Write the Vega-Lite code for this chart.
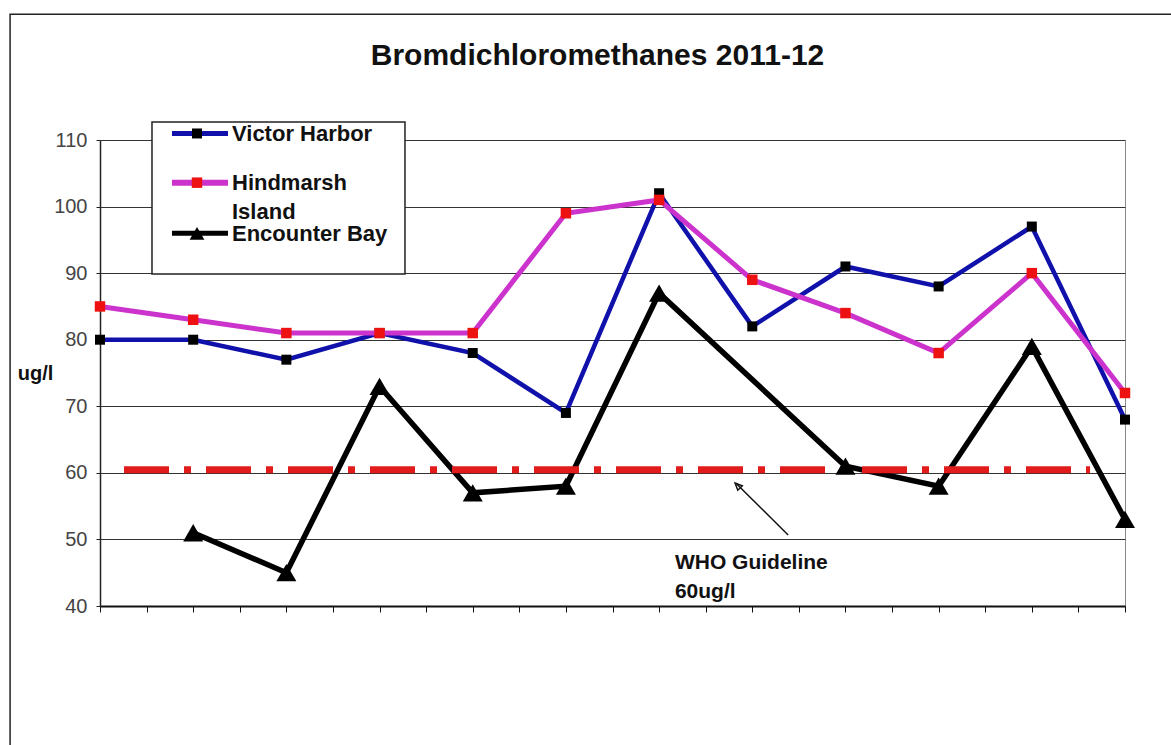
{
  "$schema": "https://vega.github.io/schema/vega-lite/v6.json",
  "width": 1025,
  "height": 466,
  "autosize": {"type": "none"},
  "padding": {"left": 100, "top": 140, "right": 46, "bottom": 139},
  "background": "white",
  "config": {
    "font": "Liberation Sans",
    "view": {"stroke": "#888", "strokeWidth": 1}
  },
  "title": {
    "text": "Bromdichloromethanes 2011-12",
    "fontSize": 30,
    "fontWeight": "bold",
    "color": "#111",
    "anchor": "middle",
    "frame": "group",
    "baseline": "bottom",
    "dx": -15,
    "offset": -88
  },
  "datasets": {
    "readings": [
      {"site": "Victor Harbor", "t": 0, "ugl": 80},
      {"site": "Victor Harbor", "t": 2, "ugl": 80},
      {"site": "Victor Harbor", "t": 4, "ugl": 77},
      {"site": "Victor Harbor", "t": 6, "ugl": 81},
      {"site": "Victor Harbor", "t": 8, "ugl": 78},
      {"site": "Victor Harbor", "t": 10, "ugl": 69},
      {"site": "Victor Harbor", "t": 12, "ugl": 102},
      {"site": "Victor Harbor", "t": 14, "ugl": 82},
      {"site": "Victor Harbor", "t": 16, "ugl": 91},
      {"site": "Victor Harbor", "t": 18, "ugl": 88},
      {"site": "Victor Harbor", "t": 20, "ugl": 97},
      {"site": "Victor Harbor", "t": 22, "ugl": 68},
      {"site": "Hindmarsh Island", "t": 0, "ugl": 85},
      {"site": "Hindmarsh Island", "t": 2, "ugl": 83},
      {"site": "Hindmarsh Island", "t": 4, "ugl": 81},
      {"site": "Hindmarsh Island", "t": 6, "ugl": 81},
      {"site": "Hindmarsh Island", "t": 8, "ugl": 81},
      {"site": "Hindmarsh Island", "t": 10, "ugl": 99},
      {"site": "Hindmarsh Island", "t": 12, "ugl": 101},
      {"site": "Hindmarsh Island", "t": 14, "ugl": 89},
      {"site": "Hindmarsh Island", "t": 16, "ugl": 84},
      {"site": "Hindmarsh Island", "t": 18, "ugl": 78},
      {"site": "Hindmarsh Island", "t": 20, "ugl": 90},
      {"site": "Hindmarsh Island", "t": 22, "ugl": 72},
      {"site": "Encounter Bay", "t": 2, "ugl": 51},
      {"site": "Encounter Bay", "t": 4, "ugl": 45},
      {"site": "Encounter Bay", "t": 6, "ugl": 73},
      {"site": "Encounter Bay", "t": 8, "ugl": 57},
      {"site": "Encounter Bay", "t": 10, "ugl": 58},
      {"site": "Encounter Bay", "t": 12, "ugl": 87},
      {"site": "Encounter Bay", "t": 16, "ugl": 61},
      {"site": "Encounter Bay", "t": 18, "ugl": 58},
      {"site": "Encounter Bay", "t": 20, "ugl": 79},
      {"site": "Encounter Bay", "t": 22, "ugl": 53}
    ]
  },
  "layer": [
    {
      "data": {"values": [{}]},
      "mark": {"type": "rect", "fill": null, "stroke": "#222", "strokeWidth": 1.5, "clip": false},
      "encoding": {
        "x": {"datum": -1.93, "type": "quantitative"},
        "x2": {"datum": 30},
        "y": {"datum": 128.9, "type": "quantitative"},
        "y2": {"datum": 0}
      }
    },
    {
      "data": {"name": "readings"},
      "encoding": {
        "x": {
          "field": "t",
          "type": "quantitative",
          "scale": {"domain": [0, 22], "nice": false, "zero": false},
          "axis": {
            "title": null,
            "labels": false,
            "grid": false,
            "values": [0,1,2,3,4,5,6,7,8,9,10,11,12,13,14,15,16,17,18,19,20,21,22],
            "domainColor": "#111",
            "domainWidth": 2,
            "tickColor": "#111",
            "tickWidth": 1,
            "tickSize": 6
          }
        },
        "y": {
          "field": "ugl",
          "type": "quantitative",
          "scale": {"domain": [40, 110], "nice": false, "zero": false},
          "axis": {
            "title": "ug/l",
            "titleAngle": 0,
            "titleFontSize": 20,
            "titleFontWeight": "bold",
            "titleColor": "#111",
            "titleX": -65,
            "titleY": 233,
            "titleAlign": "center",
            "titleBaseline": "middle",
            "values": [40, 50, 60, 70, 80, 90, 100, 110],
            "grid": true,
            "gridColor": "#333",
            "gridWidth": 1.2,
            "domainColor": "#222",
            "domainWidth": 1.5,
            "tickColor": "#222",
            "tickSize": 4,
            "labelFontSize": 20,
            "labelColor": "#444",
            "labelPadding": 9
          }
        }
      },
      "layer": [
        {
          "transform": [{"filter": "datum.site === 'Victor Harbor'"}],
          "mark": {"type": "line", "color": "#1010AA", "strokeWidth": 4.5}
        },
        {
          "transform": [{"filter": "datum.site === 'Victor Harbor'"}],
          "mark": {"type": "point", "shape": "square", "filled": true, "color": "#000", "opacity": 1, "size": 100}
        },
        {
          "transform": [{"filter": "datum.site === 'Hindmarsh Island'"}],
          "mark": {"type": "line", "color": "#CC33CC", "strokeWidth": 5}
        },
        {
          "transform": [{"filter": "datum.site === 'Hindmarsh Island'"}],
          "mark": {"type": "point", "shape": "square", "filled": true, "color": "#EE1111", "opacity": 1, "size": 110}
        },
        {
          "transform": [{"filter": "datum.site === 'Encounter Bay'"}],
          "mark": {"type": "line", "color": "#000", "strokeWidth": 5.5}
        }
      ]
    },
    {
      "data": {"values": [{}]},
      "mark": {"type": "rule", "color": "#E21B1B", "strokeWidth": 7, "strokeDash": [45, 15, 7, 15], "strokeCap": "butt", "yOffset": -3},
      "encoding": {
        "x": {"datum": 0.515, "type": "quantitative"},
        "x2": {"datum": 21.25},
        "y": {"datum": 60, "type": "quantitative"}
      }
    },
    {
      "data": {"name": "readings"},
      "transform": [{"filter": "datum.site === 'Encounter Bay'"}],
      "mark": {"type": "point", "shape": "triangle-up", "filled": true, "color": "#000", "opacity": 1, "size": 400},
      "encoding": {
        "x": {"field": "t", "type": "quantitative"},
        "y": {"field": "ugl", "type": "quantitative"}
      }
    },
    {
      "data": {"values": [{}]},
      "mark": {"type": "rule", "color": "#111", "strokeWidth": 1.5},
      "encoding": {
        "x": {"datum": 14.77, "type": "quantitative"},
        "y": {"datum": 50.67, "type": "quantitative"},
        "x2": {"datum": 13.65},
        "y2": {"datum": 58.45}
      }
    },
    {
      "data": {"values": [{}]},
      "mark": {"type": "point", "shape": "M0,0L-0.45,1L0.45,1Z", "filled": false, "stroke": "#111", "strokeWidth": 1.5, "opacity": 1, "size": 200, "angle": -45},
      "encoding": {
        "x": {"datum": 13.63, "type": "quantitative"},
        "y": {"datum": 58.48, "type": "quantitative"}
      }
    },
    {
      "data": {"values": [{}]},
      "mark": {"type": "text", "text": "WHO Guideline", "align": "left", "baseline": "middle", "fontSize": 21, "fontWeight": "bold", "color": "#111"},
      "encoding": {
        "x": {"datum": 12.34, "type": "quantitative"},
        "y": {"datum": 46.46, "type": "quantitative"}
      }
    },
    {
      "data": {"values": [{}]},
      "mark": {"type": "text", "text": "60ug/l", "align": "left", "baseline": "middle", "fontSize": 21, "fontWeight": "bold", "color": "#111"},
      "encoding": {
        "x": {"datum": 12.34, "type": "quantitative"},
        "y": {"datum": 42.1, "type": "quantitative"}
      }
    },
    {
      "data": {"values": [{}]},
      "mark": {"type": "rect", "fill": "white", "stroke": "#222", "strokeWidth": 1.5, "clip": false},
      "encoding": {
        "x": {"datum": 1.116, "type": "quantitative"},
        "x2": {"datum": 6.546},
        "y": {"datum": 112.7, "type": "quantitative"},
        "y2": {"datum": 89.87}
      }
    },
    {
      "data": {"values": [{}]},
      "mark": {"type": "rule", "color": "#1010AA", "strokeWidth": 5},
      "encoding": {"x": {"datum": 1.545, "type": "quantitative"}, "x2": {"datum": 2.747}, "y": {"datum": 110.98, "type": "quantitative"}}
    },
    {
      "data": {"values": [{}]},
      "mark": {"type": "rule", "color": "#CC33CC", "strokeWidth": 6},
      "encoding": {"x": {"datum": 1.545, "type": "quantitative"}, "x2": {"datum": 2.747}, "y": {"datum": 103.59, "type": "quantitative"}}
    },
    {
      "data": {"values": [{}]},
      "mark": {"type": "rule", "color": "#000", "strokeWidth": 5},
      "encoding": {"x": {"datum": 1.545, "type": "quantitative"}, "x2": {"datum": 2.747}, "y": {"datum": 95.98, "type": "quantitative"}}
    },
    {
      "data": {"values": [{}]},
      "mark": {"type": "point", "shape": "square", "filled": true, "color": "#000", "opacity": 1, "size": 100},
      "encoding": {"x": {"datum": 2.082, "type": "quantitative"}, "y": {"datum": 110.98, "type": "quantitative"}}
    },
    {
      "data": {"values": [{}]},
      "mark": {"type": "point", "shape": "square", "filled": true, "color": "#EE1111", "opacity": 1, "size": 110},
      "encoding": {"x": {"datum": 2.082, "type": "quantitative"}, "y": {"datum": 103.59, "type": "quantitative"}}
    },
    {
      "data": {"values": [{}]},
      "mark": {"type": "point", "shape": "triangle-up", "filled": true, "color": "#000", "opacity": 1, "size": 220},
      "encoding": {"x": {"datum": 2.082, "type": "quantitative"}, "y": {"datum": 95.98, "type": "quantitative"}}
    },
    {
      "data": {"values": [{}]},
      "mark": {"type": "text", "text": "Victor Harbor", "align": "left", "baseline": "middle", "fontSize": 22, "fontWeight": "bold", "color": "#111"},
      "encoding": {"x": {"datum": 2.833, "type": "quantitative"}, "y": {"datum": 110.9, "type": "quantitative"}}
    },
    {
      "data": {"values": [{}]},
      "mark": {"type": "text", "text": "Hindmarsh", "align": "left", "baseline": "middle", "fontSize": 22, "fontWeight": "bold", "color": "#111"},
      "encoding": {"x": {"datum": 2.833, "type": "quantitative"}, "y": {"datum": 103.5, "type": "quantitative"}}
    },
    {
      "data": {"values": [{}]},
      "mark": {"type": "text", "text": "Island", "align": "left", "baseline": "middle", "fontSize": 22, "fontWeight": "bold", "color": "#111"},
      "encoding": {"x": {"datum": 2.833, "type": "quantitative"}, "y": {"datum": 99.2, "type": "quantitative"}}
    },
    {
      "data": {"values": [{}]},
      "mark": {"type": "text", "text": "Encounter Bay", "align": "left", "baseline": "middle", "fontSize": 22, "fontWeight": "bold", "color": "#111"},
      "encoding": {"x": {"datum": 2.833, "type": "quantitative"}, "y": {"datum": 95.9, "type": "quantitative"}}
    }
  ]
}
